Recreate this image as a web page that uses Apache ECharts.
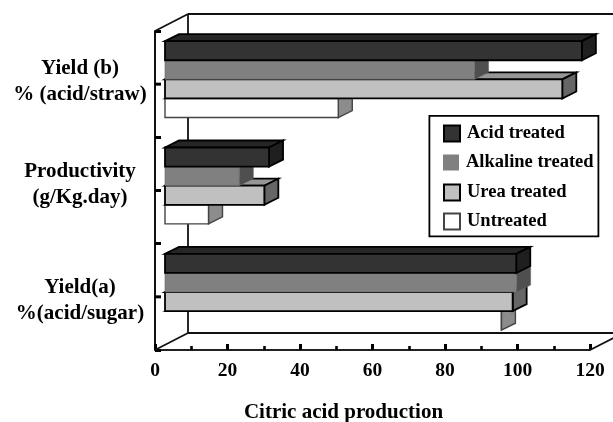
<!DOCTYPE html>
<html>
<head>
<meta charset="utf-8">
<style>html,body{margin:0;padding:0;background:#fff}#c{width:613px;height:422px}</style>
<script src="https://cdn.jsdelivr.net/npm/echarts@6/dist/echarts.min.js"></script>
</head>
<body>
<div id="c"></div>
<script>
var categories = ['Yield (b)\n% (acid/straw)', 'Productivity\n(g/Kg.day)', 'Yield(a)\n%(acid/sugar)'];
var acidTreated = [115, 28.7, 96.9];
var alkalineTreated = [85.4, 20.5, 97];
var ureaTreated = [109.6, 27.4, 95.9];
var untreated = [47.8, 12, 92.8];
var xTicks = { min: 0, max: 120, interval: 20 };

var FONT = '"Liberation Serif", "Times New Roman", serif';
var BAR_H = 19.1, GROUP_TOP = -43, BAR_INSET = 10, DX = 14, DY = 7;

function barSeries(name, values, slot, c, legendBorder) {
  return {
    type: 'custom', name: name, z: 3, clip: false, silent: true,
    itemStyle: { color: c.front, borderColor: legendBorder, borderWidth: legendBorder === 'none' ? 0 : 1.8 },
    encode: { x: 0, y: 1 },
    data: values.map(function (v, i) { return [v, i]; }),
    renderItem: function (params, api) {
      var zero = api.coord([0, api.value(1)]);
      var end = api.coord([api.value(0), api.value(1)]);
      var x0 = zero[0] + BAR_INSET, x1 = end[0] + BAR_INSET;
      var y0 = zero[1] + GROUP_TOP + slot * BAR_H, y1 = y0 + BAR_H;
      var line = { stroke: c.line, lineWidth: c.lw };
      var ghost = c.openLast && api.value(1) === 2;
      var kids = [
        { type: 'polygon', shape: { points: [[x0, y0], [x0 + DX, y0 - DY], [x1 + DX, y0 - DY], [x1, y0]] },
          style: { fill: c.top, stroke: c.line, lineWidth: c.lw } },
        { type: 'polygon', shape: { points: [[x1, y0], [x1 + DX, y0 - DY], [x1 + DX, y1 - DY], [x1, y1]] },
          style: { fill: c.side, stroke: c.line, lineWidth: c.lw } }
      ];
      if (ghost) {
        kids.push({ type: 'line', shape: { x1: x1, y1: y0, x2: x1, y2: y1 }, style: line });
      } else {
        kids.push({ type: 'rect', shape: { x: x0, y: y0, width: x1 - x0, height: BAR_H },
          style: { fill: c.front, stroke: c.line, lineWidth: c.lw } });
      }
      return { type: 'group', children: kids };
    }
  };
}

var wallSeries = {
  type: 'custom', name: 'walls', z: 1, silent: true, clip: false,
  encode: { x: 0, y: 1 }, data: [[0, 0]],
  renderItem: function (params, api) {
    var g = params.coordSys, bx = 33, by = -17;
    var L = g.x, T = g.y, R = g.x + g.width, B = g.y + g.height;
    var s = { stroke: '#111', lineWidth: 1.8, fill: null };
    var seg = function (a, b, c, d) { return { type: 'line', shape: { x1: a, y1: b, x2: c, y2: d }, style: s }; };
    var kids = [
      seg(L, T, L + bx, T + by), seg(L + bx, T + by, R + bx, T + by),
      seg(L + bx, T + by, L + bx, B + by), seg(L + bx, B + by, R + bx, B + by),
      seg(L, B, L + bx, B + by), seg(R, B, R + bx, B + by)
    ];
    var band = g.height / categories.length;
    categories.forEach(function (c, i) {
      var y = T + band * (i + 0.5);
      kids.push({ type: 'line', shape: { x1: L, y1: y, x2: L + 6, y2: y }, style: { stroke: '#000', lineWidth: 3 } });
    });
    return { type: 'group', children: kids };
  }
};

function legendAt(name, top) {
  return {
    data: [name], left: 443, top: top, padding: 0, itemWidth: 16, itemHeight: 16, z: 8,
    selectedMode: false, icon: 'rect',
    textStyle: { fontFamily: FONT, fontWeight: 'bold', fontSize: 18.5, color: '#000', padding: [0, 0, 0, 2] }
  };
}

var labelRich = {
  t: { fontFamily: FONT, fontWeight: 'bold', fontSize: 21, lineHeight: 26, color: '#000', align: 'center' },
  s4: { fontSize: 1, lineHeight: 6, height: 6 },
  s10: { fontSize: 1, lineHeight: 12, height: 12 },
  s6: { fontSize: 1, lineHeight: 8, height: 8 }
};
function catLabel(value, index) {
  var lines = String(value).split('\n').map(function (l) { return '{t|' + l + '}'; }).join('\n');
  if (index === 0) return lines + '\n{s4| }';
  if (index === 1) return lines + '\n{s10| }';
  return '{s6| }\n' + lines;
}

var chart = echarts.init(document.getElementById('c'), null, { renderer: 'canvas' });
chart.setOption({
  animation: false,
  backgroundColor: '#fff',
  grid: { left: 155, right: 23, top: 31, bottom: 72, containLabel: false, outerBoundsMode: 'none' },
  legend: [
    legendAt('Acid treated', 124),
    legendAt('Alkaline treated', 153),
    legendAt('Urea treated', 183),
    legendAt('Untreated', 212)
  ],
  graphic: [{
    type: 'rect', z: 7, left: 428.5, top: 115, silent: true,
    shape: { width: 169, height: 120.5 },
    style: { fill: '#fff', stroke: '#000', lineWidth: 1.8 }
  }],
  xAxis: {
    type: 'value', min: xTicks.min, max: xTicks.max, interval: xTicks.interval,
    splitLine: { show: false },
    axisLine: { show: true, onZero: false, lineStyle: { color: '#222', width: 1.8 } },
    axisTick: { show: true, inside: true, length: 6, lineStyle: { color: '#000', width: 3 } },
    minorTick: { show: true, splitNumber: 2, length: 4, lineStyle: { color: '#000', width: 2.6 } },
    axisLabel: { fontFamily: FONT, fontWeight: 'bold', fontSize: 19.5, color: '#000', margin: 11, showMinLabel: true, showMaxLabel: true, hideOverlap: false },
    name: 'Citric acid production', nameLocation: 'middle', nameGap: 52,
    nameTextStyle: { fontFamily: FONT, fontWeight: 'bold', fontSize: 21, color: '#000', padding: [0, 58, 0, 0] }
  },
  yAxis: {
    type: 'category', inverse: true, data: categories,
    axisLine: { show: true, lineStyle: { color: '#111', width: 2 } },
    axisTick: { show: true, inside: true, length: 6, lineStyle: { color: '#000', width: 3 } },
    axisLabel: { formatter: catLabel, rich: labelRich, align: 'center', margin: 75 }
  },
  series: [
    wallSeries,
    barSeries('Untreated', untreated, 3, { front: '#fff', top: '#fff', side: '#8c8c8c', line: '#444', lw: 1.4, openLast: true }, '#444'),
    barSeries('Urea treated', ureaTreated, 2, { front: '#c0c0c0', top: '#969696', side: '#666', line: '#000', lw: 1.8 }, '#000'),
    barSeries('Alkaline treated', alkalineTreated, 1, { front: '#808080', top: '#606060', side: '#4f4f4f', line: '#666', lw: 0.6 }, 'none'),
    barSeries('Acid treated', acidTreated, 0, { front: '#333', top: '#262626', side: '#1f1f1f', line: '#000', lw: 1.8 }, '#000')
  ]
});
</script>
</body>
</html>
